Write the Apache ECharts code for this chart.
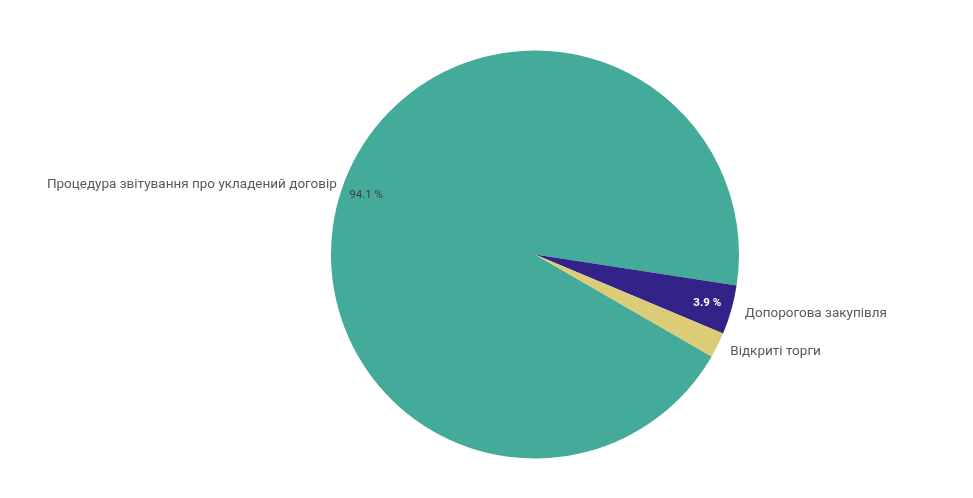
<!DOCTYPE html>
<html>
<head>
<meta charset="utf-8">
<script src="https://cdn.jsdelivr.net/npm/echarts@6/dist/echarts.min.js"></script>
<style>
html,body{margin:0;padding:0;background:#fff;}
#chart{width:973px;height:498px;}
</style>
</head>
<body>
<div id="chart"></div>
<script>
// Data
const categories = ['Процедура звітування про укладений договір', 'Допорогова закупівля', 'Відкриті торги'];
const values = [94.1, 3.9, 2.0];

// Styles (kept separate from data)
const colors = ['#44aa99', '#332288', '#ddcc77'];
const outerLineLen = [6, 14, 14];
const innerLabelStyle = [
  {show: true, color: '#404040', fontWeight: 'normal'},
  {show: true, color: '#ffffff', fontWeight: 'bold'},
  {show: false}
];

const total = values.reduce((a, b) => a + b, 0);
const fmtPct = v => (v / total * 100).toFixed(1) + ' %';

const R = 204;
const center = [535, 254.5];
const font = 'Roboto, "Noto Sans", sans-serif';

const outerData = categories.map((c, i) => ({
  name: c,
  value: values[i],
  itemStyle: {color: colors[i]},
  labelLine: {show: false, length: outerLineLen[i], length2: 0}
}));

const innerData = categories.map((c, i) => ({
  name: c,
  value: values[i],
  itemStyle: {color: 'rgba(0,0,0,0)'},
  label: innerLabelStyle[i]
}));

const chart = echarts.init(document.getElementById('chart'), null, {renderer: 'canvas'});
chart.setOption({
  backgroundColor: '#ffffff',
  animation: false,
  series: [
    {
      type: 'pie',
      center: center,
      radius: [0, R],
      startAngle: -30,
      clockwise: true,
      avoidLabelOverlap: false,
      data: outerData,
      label: {
        show: true,
        position: 'outside',
        formatter: '{b}',
        color: '#595959',
        fontSize: 13.5,
        fontFamily: font,
        distanceToLabelLine: 0
      },
      labelLine: {show: false},
      emphasis: {disabled: true}
    },
    {
      type: 'pie',
      center: center,
      radius: [148, R],
      startAngle: -30,
      clockwise: true,
      silent: true,
      avoidLabelOverlap: false,
      data: innerData,
      label: {
        position: 'inside',
        formatter: p => fmtPct(p.value),
        fontSize: 11.5,
        fontFamily: font
      },
      labelLine: {show: false},
      emphasis: {disabled: true}
    }
  ]
});
</script>
</body>
</html>
